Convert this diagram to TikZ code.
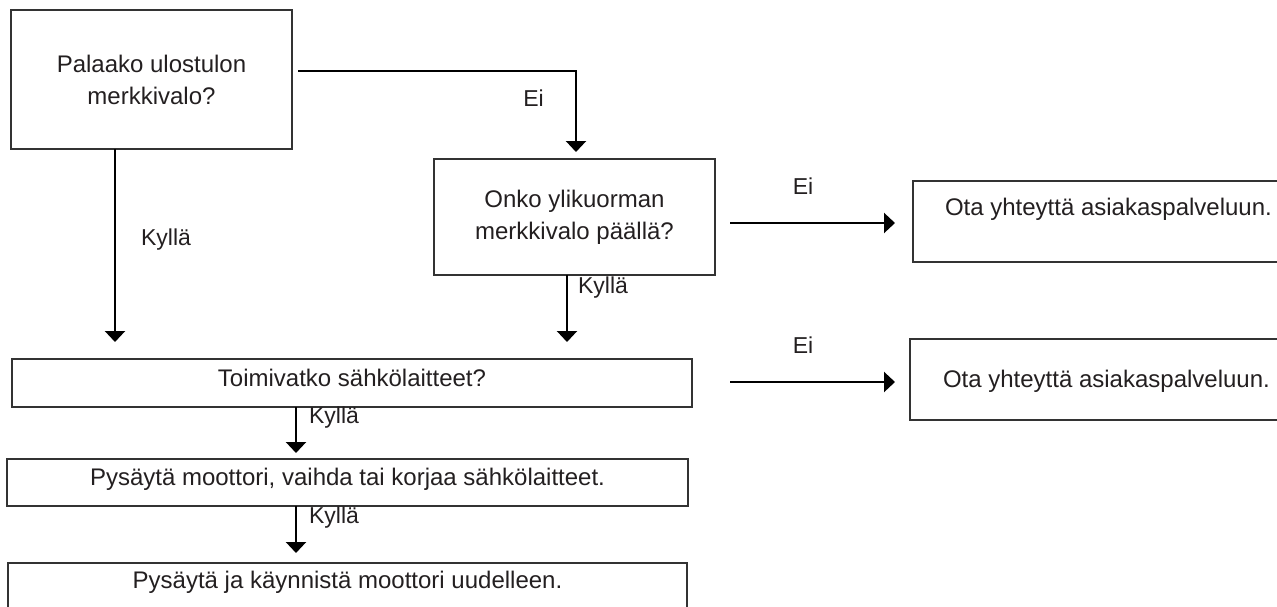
\documentclass[tikz,border=0pt]{standalone}
\usepackage{fontspec}
\setmainfont{Liberation Sans}
\usetikzlibrary{arrows.meta,calc}
\definecolor{ink}{HTML}{231F20}
\definecolor{frame}{HTML}{333333}
\begin{document}
\begin{tikzpicture}[x=1pt, y=-1pt,
  box/.style={draw=frame, line width=1.3pt, text=ink, inner ysep=0pt, outer sep=0pt,
    anchor=north west, font=\fontsize{24}{32}\selectfont},
  arr/.style={draw=black, line width=2.3pt, -{Triangle[width=20pt,length=11pt]}},
  lbl/.style={text=ink, inner sep=0pt, font=\fontsize{23}{27}\selectfont}]
  \useasboundingbox (0,0) rectangle (1277,606);
  \node[box, align=center, minimum width=281pt, minimum height=139pt] (q1) at (11,10)
    {Palaako ulostulon\\merkkivalo?};
  \node[box, align=center, minimum width=281pt, minimum height=116pt] (q2) at (434,159)
    {Onko ylikuorman\\merkkivalo päällä?};
  \node[box, inner xsep=32pt, text height=34pt, text depth=47pt] (a1) at (913,181)
    {Ota yhteyttä asiakaspalveluun.};
  \node[box, minimum width=680pt, text height=27pt, text depth=21pt] (q3) at (12,359)
    {Toimivatko sähkölaitteet?};
  \node[box, inner xsep=33pt, text height=48pt, text depth=33pt] (a2) at (910,339)
    {Ota yhteyttä asiakaspalveluun.};
  \node[box, minimum width=681pt, text height=26pt, text depth=21pt] (b1) at (7,459)
    {Pysäytä moottori, vaihda tai korjaa sähkölaitteet.};
  \node[box, minimum width=679pt, text height=25pt, text depth=40pt] (b2) at (8,563)
    {Pysäytä ja käynnistä moottori uudelleen.};
  \draw[arr] ($(q1.east)+(6,-8.5)$) -| ($(q2.north)+(1.5,-7)$)
    node[lbl, pos=0.67, anchor=east, xshift=-31pt] {Ei};
  \draw[arr] ($(q1.south)+(-36.5,0)$) -- ($(q1.south |- q3.north)+(-36.5,-17)$)
    node[lbl, pos=0.47, anchor=west, xshift=25pt] {Kyllä};
  \draw[arr] ($(q2.south)+(-7.5,0)$) -- ($(q2.south |- q3.north)+(-7.5,-17)$)
    node[lbl, pos=0.18, anchor=west, xshift=10pt] {Kyllä};
  \draw[arr] ($(q2.east)+(15,6)$) -- ($(a1.west |- q2.east)+(-18,6)$)
    node[lbl, midway, yshift=37pt, xshift=-9.5pt] {Ei};
  \draw[arr] ($(q3.east)+(38,-1)$) -- ($(a2.west |- q3.east)+(-15,-1)$)
    node[lbl, midway, yshift=37pt, xshift=-9.5pt] {Ei};
  \draw[arr] ($(q3.south)+(-56,0)$) -- ($(q3.south |- b1.north)+(-56,-6)$)
    node[lbl, pos=0.24, anchor=west, xshift=12pt] {Kyllä};
  \draw[arr] ($(b1.south)+(-51.5,0)$) -- ($(b1.south |- b2.north)+(-51.5,-10)$)
    node[lbl, pos=0.25, anchor=west, xshift=12pt] {Kyllä};
\end{tikzpicture}
\end{document}
